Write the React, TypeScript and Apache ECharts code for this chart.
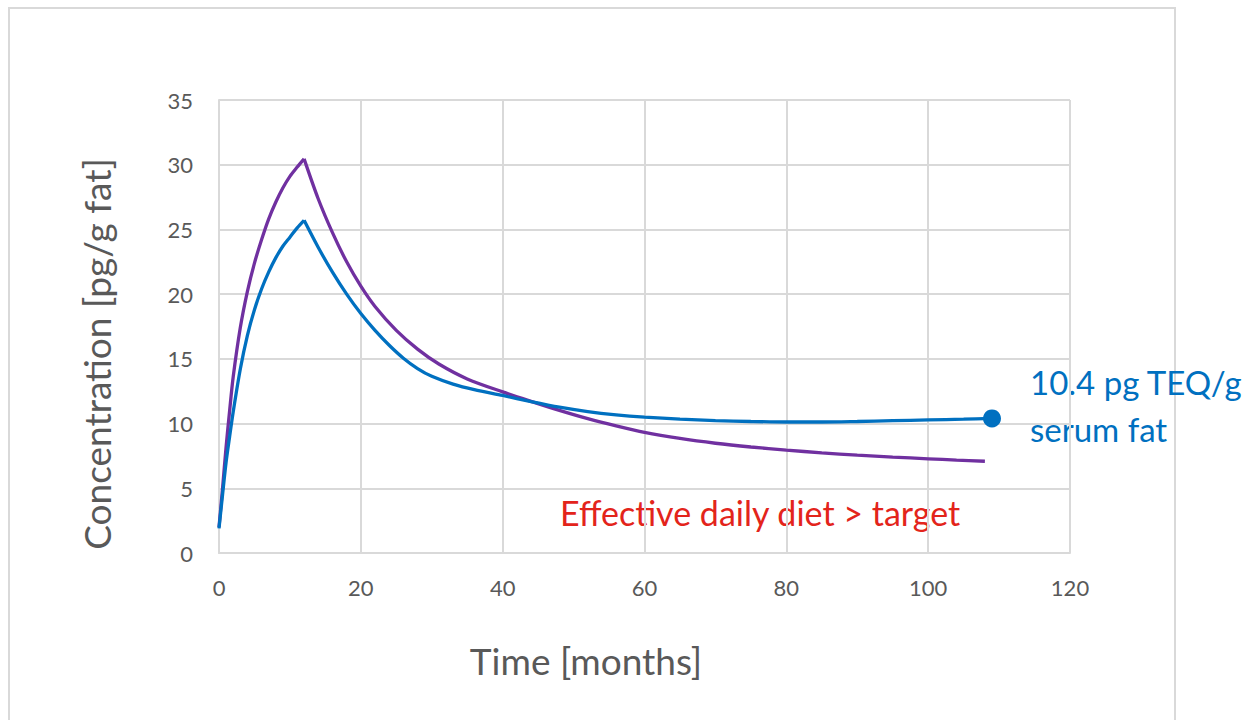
import React, { useEffect, useRef } from "react";
import * as echarts from "echarts";

// Serum concentration (pg/g fat) over time (months) for the two intake scenarios
const purpleMonths = [0, 0.5, 1, 1.5, 2, 3, 4, 5, 6, 7, 8, 9, 10, 11, 12, 14, 16, 18, 20, 22, 25, 28, 31, 35, 40, 44, 48, 52, 56, 60, 65, 70, 75, 80, 85, 90, 95, 100, 104, 108];
const purpleValues = [2.0, 5.0, 8.2, 11.0, 13.6, 17.4, 20.2, 22.4, 24.2, 25.8, 27.1, 28.2, 29.1, 29.8, 30.45, 27.35, 24.75, 22.5, 20.62, 19.05, 17.2, 15.75, 14.6, 13.45, 12.45, 11.72, 11.02, 10.38, 9.82, 9.32, 8.85, 8.48, 8.19, 7.95, 7.74, 7.56, 7.41, 7.28, 7.18, 7.09];

const blueMonths = [0, 0.5, 1, 1.5, 2, 3, 4, 5, 6, 7, 8, 9, 10, 11, 12, 14, 16, 18, 20, 22, 24, 26, 28, 30, 33, 36, 40, 44, 48, 52, 56, 60, 65, 70, 75, 80, 85, 90, 95, 100, 105, 109];
const blueValues = [1.9, 4.5, 7.0, 9.0, 10.9, 14.2, 16.8, 18.8, 20.4, 21.7, 22.8, 23.7, 24.4, 25.1, 25.7, 23.6, 21.7, 20.0, 18.5, 17.2, 16.05, 15.05, 14.25, 13.65, 13.05, 12.62, 12.17, 11.7, 11.27, 10.93, 10.68, 10.5, 10.34, 10.23, 10.16, 10.12, 10.12, 10.16, 10.22, 10.28, 10.34, 10.4];

// Intake stops at the end of the first year; both curves turn there
const PEAK_MONTH = 12;

const xTicks = [0, 20, 40, 60, 80, 100, 120];
const yTicks = [0, 5, 10, 15, 20, 25, 30, 35];

const FONT = "Lato, 'Open Sans', sans-serif";
const GRID_COLOR = "#d9d9d9";
const TEXT_COLOR = "#595959";
const PURPLE = "#7030A0";
const BLUE = "#0070C0";
const RED = "#E3241B";

function pairs(xs: number[], ys: number[]) {
  return xs.map((x, i) => [x, ys[i]]);
}

// Rising and falling parts share the peak point, so each can be smoothed
// on its own while the peak stays sharp.
function splitAtPeak(xs: number[], ys: number[]) {
  const pts = pairs(xs, ys);
  const k = xs.indexOf(PEAK_MONTH);
  return [pts.slice(0, k + 1), pts.slice(k)];
}

export default function App() {
  const ref = useRef<HTMLDivElement>(null);

  useEffect(() => {
    if (!ref.current) return;
    const chart = echarts.init(ref.current, undefined, { renderer: "svg" });
    const [purpleRise, purpleFall] = splitAtPeak(purpleMonths, purpleValues);
    const [blueRise, blueFall] = splitAtPeak(blueMonths, blueValues);
    const lastIdx = blueFall.length - 1;

    const lineSeries = (data: any[], color: string) => ({
      type: "line",
      data,
      smooth: 0.3,
      showSymbol: false,
      symbol: "none",
      lineStyle: { color, width: 3.3 },
      itemStyle: { color },
    });

    chart.setOption({
      animation: false,
      backgroundColor: "#ffffff",
      grid: { left: 219, right: 175, top: 100, bottom: 167 },
      xAxis: {
        type: "value",
        min: xTicks[0],
        max: xTicks[xTicks.length - 1],
        interval: 20,
        axisLine: { show: true, lineStyle: { color: GRID_COLOR, width: 2 } },
        axisTick: { show: false },
        axisLabel: { fontFamily: FONT, fontSize: 22, color: TEXT_COLOR, margin: 23 },
        splitLine: { show: true, lineStyle: { color: GRID_COLOR, width: 2 } },
      },
      yAxis: {
        type: "value",
        min: yTicks[0],
        max: yTicks[yTicks.length - 1],
        interval: 5,
        axisLine: { show: true, lineStyle: { color: GRID_COLOR, width: 2 } },
        axisTick: { show: false },
        axisLabel: { fontFamily: FONT, fontSize: 22, color: TEXT_COLOR, margin: 26 },
        splitLine: { show: true, lineStyle: { color: GRID_COLOR, width: 2 } },
      },
      series: [
        lineSeries(purpleRise, PURPLE),
        lineSeries(purpleFall, PURPLE),
        lineSeries(blueRise, BLUE),
        {
          ...lineSeries(
            blueFall.map((d, i) =>
              i === lastIdx
                ? { value: d, symbol: "circle", symbolSize: 18, itemStyle: { color: BLUE } }
                : { value: d, symbol: "none" }
            ),
            BLUE
          ),
          showSymbol: true,
          symbol: "circle",
        },
      ],
      graphic: [
        {
          type: "rect",
          shape: { x: 9, y: 8, width: 1166, height: 730 },
          style: { fill: "none", stroke: GRID_COLOR, lineWidth: 2 },
          silent: true,
        },
        {
          type: "text",
          x: 96,
          y: 354,
          rotation: Math.PI / 2,
          style: {
            text: "Concentration [pg/g fat]",
            fontFamily: FONT,
            fontSize: 37,
            fill: TEXT_COLOR,
            align: "center",
            verticalAlign: "middle",
          },
        },
        {
          type: "text",
          x: 586,
          y: 660,
          style: {
            text: "Time [months]",
            fontFamily: FONT,
            fontSize: 37,
            fill: TEXT_COLOR,
            align: "center",
            verticalAlign: "middle",
          },
        },
        {
          type: "text",
          x: 1030,
          y: 382,
          style: {
            text: "10.4 pg TEQ/g",
            fontFamily: FONT,
            fontSize: 33,
            fill: BLUE,
            verticalAlign: "middle",
          },
        },
        {
          type: "text",
          x: 1030,
          y: 429,
          style: {
            text: "serum fat",
            fontFamily: FONT,
            fontSize: 33,
            fill: BLUE,
            verticalAlign: "middle",
          },
        },
        {
          type: "text",
          x: 560,
          y: 512,
          style: {
            text: "Effective daily diet > target",
            fontFamily: FONT,
            fontSize: 34,
            fill: RED,
            verticalAlign: "middle",
          },
        },
      ],
    });
    return () => chart.dispose();
  }, []);

  return (
    <div
      ref={ref}
      style={{ position: "absolute", left: 0, top: 0, width: 1245, height: 720 }}
    />
  );
}
